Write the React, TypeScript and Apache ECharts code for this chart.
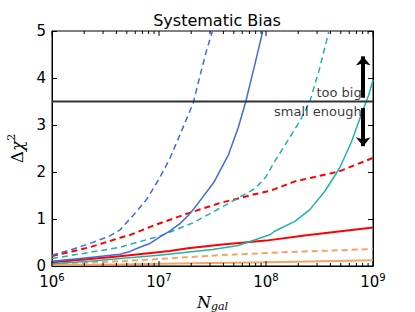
import React, { useEffect, useRef } from "react";
import * as echarts from "echarts";

// log10(N_gal) positions and Δχ² values
const blueDashedLogN = [6.0, 6.17, 6.355, 6.54, 6.636, 6.76, 6.885, 7.0, 7.1, 7.21, 7.32, 7.38, 7.446, 7.5, 7.55];
const blueDashedVal = [0.23, 0.34, 0.48, 0.64, 0.77, 1.08, 1.42, 1.85, 2.28, 2.87, 3.47, 4.02, 4.6, 5.0, 5.5];

const blueSolidLogN = [6.0, 6.355, 6.636, 6.73, 6.82, 6.916, 7.01, 7.1, 7.196, 7.27, 7.32, 7.51, 7.65, 7.74, 7.81, 7.88, 7.94, 7.97, 8.0];
const blueSolidVal = [0.1, 0.18, 0.25, 0.31, 0.4, 0.48, 0.62, 0.74, 0.9, 1.07, 1.2, 1.77, 2.37, 2.94, 3.49, 4.14, 4.71, 5.0, 5.3];

const tealDashedLogN = [6.0, 6.355, 6.636, 6.73, 7.01, 7.32, 7.57, 7.82, 7.9, 8.0, 8.08, 8.24, 8.32, 8.41, 8.5, 8.58, 8.65];
const tealDashedVal = [0.16, 0.29, 0.4, 0.46, 0.64, 0.92, 1.23, 1.55, 1.65, 1.9, 2.22, 2.8, 3.1, 3.5, 4.2, 4.92, 5.5];

const tealSolidLogN = [6.0, 6.355, 6.636, 7.0, 7.26, 7.5, 7.73, 7.9, 8.04, 8.08, 8.27, 8.41, 8.55, 8.69, 8.8, 8.89, 8.96, 9.0];
const tealSolidVal = [0.05, 0.1, 0.16, 0.23, 0.29, 0.35, 0.43, 0.56, 0.67, 0.74, 0.95, 1.2, 1.59, 2.09, 2.65, 3.22, 3.64, 3.96];

const redDashedLogN = [6.0, 6.355, 6.636, 6.73, 6.947, 7.01, 7.27, 7.57, 7.88, 8.04, 8.27, 8.68, 9.0];
const redDashedVal = [0.21, 0.4, 0.6, 0.66, 0.86, 0.91, 1.12, 1.34, 1.52, 1.6, 1.8, 2.01, 2.3];

const redSolidLogN = [6.0, 6.355, 6.636, 7.1, 7.27, 7.57, 8.0, 8.36, 9.0];
const redSolidVal = [0.08, 0.15, 0.21, 0.32, 0.38, 0.45, 0.54, 0.65, 0.82];

const orangeDashedLogN = [6.0, 6.636, 7.0, 7.57, 8.04, 8.36, 9.0];
const orangeDashedVal = [0.05, 0.1, 0.15, 0.23, 0.28, 0.31, 0.36];

const orangeSolidLogN = [6.0, 6.636, 7.0, 8.04, 9.0];
const orangeSolidVal = [0.02, 0.03, 0.05, 0.08, 0.12];

const thresholdVal = 3.5;
const xMin = 1e6;
const xMax = 1e9;
const yMin = 0;
const yMax = 5;
const majorTickVals = [1e6, 1e7, 1e8, 1e9];
const minorTickVals = [
  2e6, 3e6, 4e6, 5e6, 6e6, 7e6, 8e6, 9e6,
  2e7, 3e7, 4e7, 5e7, 6e7, 7e7, 8e7, 9e7,
  2e8, 3e8, 4e8, 5e8, 6e8, 7e8, 8e8, 9e8,
];
const arrowN = 8.1e8;
const arrowUp = [3.58, 4.46];
const arrowDown = [3.36, 2.55];
const labelN = 7.85e8;
const tooBigVal = 3.7;
const smallEnoughVal = 3.29;

const toData = (logs: number[], vals: number[]) =>
  logs.map((l, i) => [Math.pow(10, l), vals[i]]);

const BLUE = "#4169E1";
const TEAL = "#20B2AA";
const RED = "#FF0000";
const ORANGE = "#F4A460";
const FONT = "DejaVu Sans";

export default function App() {
  const ref = useRef<HTMLDivElement>(null);
  useEffect(() => {
    if (!ref.current) return;
    const chart = echarts.init(ref.current, null, { renderer: "svg" });

    const lineSeries = (
      name: string,
      logs: number[],
      vals: number[],
      color: string,
      dashed: boolean,
      width: number
    ) => ({
      name,
      type: "line",
      data: toData(logs, vals),
      smooth: false,
      showSymbol: false,
      symbol: "none",
      clip: true,
      lineStyle: { color, width, type: dashed ? [6, 4] : "solid", join: "round" },
      z: 3,
    });

    // each tick is a tiny two-point line series through the axis scale
    const tickLines: any[] = [];
    const addTicks = (vals: number[], frac: number) => {
      vals.forEach((v) => {
        tickLines.push({
          type: "line",
          data: [[v, yMin], [v, yMin + frac]],
          symbol: "none",
          silent: true,
          clip: false,
          lineStyle: { color: "#000", width: 1 },
          z: 7,
        });
        tickLines.push({
          type: "line",
          data: [[v, yMax - frac], [v, yMax]],
          symbol: "none",
          silent: true,
          clip: false,
          lineStyle: { color: "#000", width: 1 },
          z: 7,
        });
      });
    };
    addTicks(majorTickVals, 0.105);
    addTicks(minorTickVals, 0.065);

    const option: any = {
      animation: false,
      backgroundColor: "#fff",
      title: {
        text: "Systematic Bias",
        left: 212,
        textAlign: "center",
        top: 7,
        textStyle: { fontFamily: FONT, fontSize: 16, fontWeight: "normal", color: "#000" },
      },
      grid: {
        left: 52,
        right: 42,
        top: 31,
        bottom: 46,
        containLabel: false,
        outerBoundsMode: "none",
        show: true,
        borderColor: "#000",
        borderWidth: 1,
        backgroundColor: "transparent",
      },
      xAxis: {
        type: "log",
        logBase: 10,
        min: xMin,
        max: xMax,
        position: "bottom",
        axisLine: { show: true, lineStyle: { color: "#000", width: 1 } },
        axisTick: { show: false },
        axisLabel: {
          fontFamily: FONT,
          fontSize: 15,
          color: "#000",
          margin: 6,
          formatter: (v: number) => "10{sup|" + Math.round(Math.log10(v)) + "}",
          rich: {
            sup: { fontFamily: FONT, fontSize: 10, verticalAlign: "top", padding: [0, 0, 10, 0], color: "#000" },
          },
        },
        splitLine: { show: false },
        name: "{n|N}{s|gal}",
        nameLocation: "middle",
        nameGap: 24,
        nameTextStyle: {
          rich: {
            n: { fontFamily: "DejaVu Serif", fontStyle: "italic", fontSize: 16, color: "#000" },
            s: { fontFamily: "DejaVu Serif", fontStyle: "italic", fontSize: 11, color: "#000", padding: [8, 0, 0, 0] },
          },
        },
      },
      yAxis: [
        {
          type: "value",
          min: yMin,
          max: yMax,
          interval: 1,
          position: "left",
          axisLine: { show: true, lineStyle: { color: "#000", width: 1 } },
          axisTick: { show: true, inside: true, length: 5, lineStyle: { color: "#000" } },
          axisLabel: { fontFamily: FONT, fontSize: 15, color: "#000", margin: 6 },
          splitLine: { show: false },
          name: "Δ{c|χ}{s|2}",
          nameLocation: "middle",
          nameGap: 22,
          nameRotate: 90,
          nameTextStyle: {
            fontFamily: "DejaVu Serif",
            fontSize: 17,
            color: "#000",
            rich: {
              c: { fontFamily: "DejaVu Serif", fontStyle: "italic", fontSize: 17, color: "#000" },
              s: { fontFamily: "DejaVu Serif", fontSize: 11, color: "#000", verticalAlign: "top", padding: [0, 0, 12, 0] },
            },
          },
        },
        {
          type: "value",
          min: yMin,
          max: yMax,
          interval: 1,
          position: "right",
          axisLine: { show: true, lineStyle: { color: "#000", width: 1 } },
          axisTick: { show: true, inside: true, length: 5, lineStyle: { color: "#000" } },
          axisLabel: { show: false },
          splitLine: { show: false },
        },
      ],
      series: [
        lineSeries("orangeSolid", orangeSolidLogN, orangeSolidVal, ORANGE, false, 2),
        lineSeries("orangeDashed", orangeDashedLogN, orangeDashedVal, ORANGE, true, 2),
        lineSeries("redSolid", redSolidLogN, redSolidVal, RED, false, 2),
        lineSeries("redDashed", redDashedLogN, redDashedVal, RED, true, 2),
        lineSeries("tealSolid", tealSolidLogN, tealSolidVal, TEAL, false, 1.5),
        lineSeries("tealDashed", tealDashedLogN, tealDashedVal, TEAL, true, 1.5),
        lineSeries("blueSolid", blueSolidLogN, blueSolidVal, BLUE, false, 1.5),
        lineSeries("blueDashed", blueDashedLogN, blueDashedVal, BLUE, true, 1.5),
        {
          name: "threshold",
          type: "line",
          data: [
            [xMin, thresholdVal],
            [xMax, thresholdVal],
          ],
          symbol: "none",
          lineStyle: { color: "#333", width: 2 },
          z: 4,
        },
        {
          name: "arrows",
          type: "line",
          data: [],
          markLine: {
            silent: true,
            animation: false,
            symbol: ["none", "arrow"],
            symbolSize: [11, 9],
            lineStyle: { color: "#000", width: 4, type: "solid" },
            label: { show: false },
            data: [
              [{ coord: [arrowN, arrowUp[0]] }, { coord: [arrowN, arrowUp[1]] }],
              [{ coord: [arrowN, arrowDown[0]] }, { coord: [arrowN, arrowDown[1]] }],
            ],
          },
          z: 5,
        },
        {
          name: "annotations",
          type: "scatter",
          symbolSize: 0,
          data: [
            { value: [labelN, tooBigVal], name: "too big" },
            { value: [labelN, smallEnoughVal], name: "small enough" },
          ],
          label: {
            show: true,
            position: [0, 0],
            align: "right",
            verticalAlign: "middle",
            formatter: (p: any) => p.name,
            fontFamily: FONT,
            fontSize: 13,
            color: "#000",
          },
          z: 6,
        },
        ...tickLines,
      ],
    };
    chart.setOption(option);
    return () => chart.dispose();
  }, []);
  return (
    <div
      ref={ref}
      style={{ position: "fixed", left: 0, top: 0, width: 415, height: 312, background: "#fff" }}
    />
  );
}
